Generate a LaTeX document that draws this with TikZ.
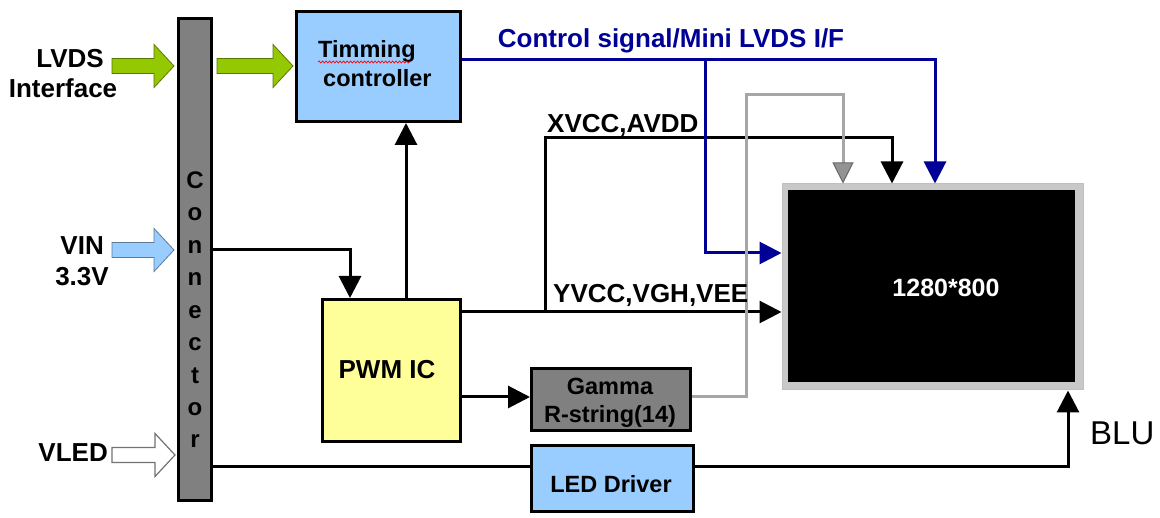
\documentclass[tikz,border=0pt]{standalone}
\usepackage{fontspec}
\setmainfont{Liberation Sans}
\usetikzlibrary{arrows.meta,decorations.pathmorphing}
\definecolor{navyc}{RGB}{0,0,150}
\definecolor{lblue}{RGB}{153,204,255}
\definecolor{lyellow}{RGB}{255,255,153}
\definecolor{midgray}{RGB}{128,128,128}
\definecolor{lgrayc}{RGB}{166,166,166}
\definecolor{framegray}{RGB}{200,200,200}
\definecolor{lime}{RGB}{148,200,0}
\newcommand\blockarrow[4]{%
  \filldraw[#1] (#2,{#4-7.5}) -- ({#3-20},{#4-7.5}) -- ({#3-20},{#4-21.5}) -- (#3,#4)
    -- ({#3-20},{#4+21.5}) -- ({#3-20},{#4+7.5}) -- (#2,{#4+7.5}) -- cycle;}
\begin{document}
\begin{tikzpicture}[x=1pt,y=-1pt,line join=miter,
  box/.style={draw=black,line width=3pt,inner sep=0pt},
  tip/.style={-{Triangle[length=22pt,width=22pt]}},
  conline/.style={line width=3pt,draw=black,tip},
  plainline/.style={line width=3pt,draw=black},
  navyline/.style={line width=3pt,draw=navyc,tip},
  grayline/.style={line width=3pt,draw=lgrayc,-{Triangle[length=21pt,width=21pt,fill=midgray!85,color=black!60,line width=1pt]}},
  lbl/.style={font=\bfseries\fontsize{26}{30}\selectfont,inner sep=0pt},
  lblsm/.style={font=\bfseries\fontsize{23.5}{28}\selectfont,inner sep=0pt},
  greenarr/.style={fill=lime,draw=lime!60!black,line width=0.8pt},
  bluearr/.style={fill=lblue,draw=lblue!60!black,line width=0.8pt},
  whitearr/.style={fill=white,draw=black!55,line width=1.2pt}]
\fill[white] (0,0) rectangle (1160,518);
\useasboundingbox (0,0) rectangle (1160,518);

% boxes
\node[box,fill=midgray,minimum width=33pt,minimum height=482pt] (conn) at (195,259.5) {};
\node[box,fill=lblue,minimum width=164pt,minimum height=110pt] (tcon) at (378.5,66.5) {};
\node[box,fill=lyellow,minimum width=138pt,minimum height=142pt] (pwm) at (391.5,370.5) {};
\node[box,fill=midgray,minimum width=159pt,minimum height=62pt] (gamma) at (611,399.5) {};
\node[box,fill=lblue,minimum width=162pt,minimum height=66pt] (led) at (612.5,478.5) {};
\node[fill=framegray,draw=black!25,line width=1pt,inner sep=0pt,minimum width=301pt,minimum height=206pt] (disp) at (932.5,287) {};
\node[fill=black,inner sep=0pt,minimum width=287pt,minimum height=192pt] (dispin) at (931.5,286) {};

% block arrows
\blockarrow{greenarr}{112}{174}{66}
\blockarrow{greenarr}{217}{293}{66}
\blockarrow{bluearr}{112}{174}{250}
\blockarrow{whitearr}{112}{175}{455}

% coordinates
\coordinate (vinj) at (350,250);
\coordinate (upx) at (406,0);
\coordinate (yv) at (545,312);
\coordinate (xr) at (892,138);
\coordinate (cs) at (935,60);
\coordinate (cb) at (705,60);
\coordinate (cb2) at (705,253);
\coordinate (g1) at (746,397);
\coordinate (g2) at (746,95);
\coordinate (g3) at (843,95);
\coordinate (ledrow) at (0,467);
\coordinate (blu) at (1068,467);

% connectors
\draw[conline] (conn.east |- vinj) -- (vinj) -- (vinj |- pwm.north);
\draw[conline] (pwm.north -| upx) -- (tcon.south -| upx);
\draw[conline] (pwm.east |- yv) -- (disp.west |- yv);
\draw[conline] (yv) |- (xr) -- (xr |- disp.north);
\draw[navyline] (tcon.east |- cs) -- (cs) -- (cs |- disp.north);
\draw[navyline] (cb) -- (cb2) -- (disp.west |- cb2);
\draw[grayline] (gamma.east |- g1) -- (g1) -- (g2) -- (g3) -- (g3 |- disp.north);
\draw[conline] (pwm.east |- g1) -- (gamma.west |- g1);
\draw[plainline] (conn.east |- ledrow) -- (led.west |- ledrow);
\draw[conline] (led.east |- blu) -- (blu) -- (blu |- disp.south);

% texts
\node[lbl,anchor=base east] (lvdst) at (104,68) {LVDS};
\node[lbl,anchor=base] (ifacet) at (63,98) {Interface};
\node[lbl,anchor=base east] (vint) at (104,255) {VIN};
\node[lbl,anchor=base] (v33t) at (82,286) {3.3V};
\node[lbl,anchor=base east] (vledt) at (108,462) {VLED};
\node[font=\bfseries\fontsize{24}{32.45}\selectfont,inner sep=0pt,align=center,anchor=north] (connt) at (195,171.4) {C\\o\\n\\n\\e\\c\\t\\o\\r};
\node[lblsm,anchor=base west] (tim1) at (318,58) {Timming};
\draw[red,line width=0.7pt,decorate,decoration={snake,amplitude=1pt,segment length=3.5pt}] (tim1.base west) ++(0,4) -- ++(92,0);
\node[lblsm,anchor=base west] (tim2) at (323,87) {controller};
\node[lbl,text=navyc,anchor=base] (cst) at (671,48) {Control signal/Mini LVDS I/F};
\node[lbl,anchor=base west] (xvt) at (547,133) {XVCC,AVDD};
\node[lbl,anchor=base west] (yvt) at (553,303) {YVCC,VGH,VEE};
\node[lbl,anchor=base] (pwmt) at (387,379) {PWM IC};
\node[lblsm,anchor=base] (gam1) at (610,395) {Gamma};
\node[lblsm,anchor=base] (gam2) at (610,423) {R-string(14)};
\node[lblsm,anchor=base] (ledt) at (611,493) {LED Driver};
\node[font=\bfseries\fontsize{25}{30}\selectfont,text=white,inner sep=0pt,anchor=base] (rest) at (946,297) {1280*800};
\node[font=\fontsize{33}{38}\selectfont,inner sep=0pt,anchor=base west] (blut) at (1090,445) {BLU};
\end{tikzpicture}
\end{document}
